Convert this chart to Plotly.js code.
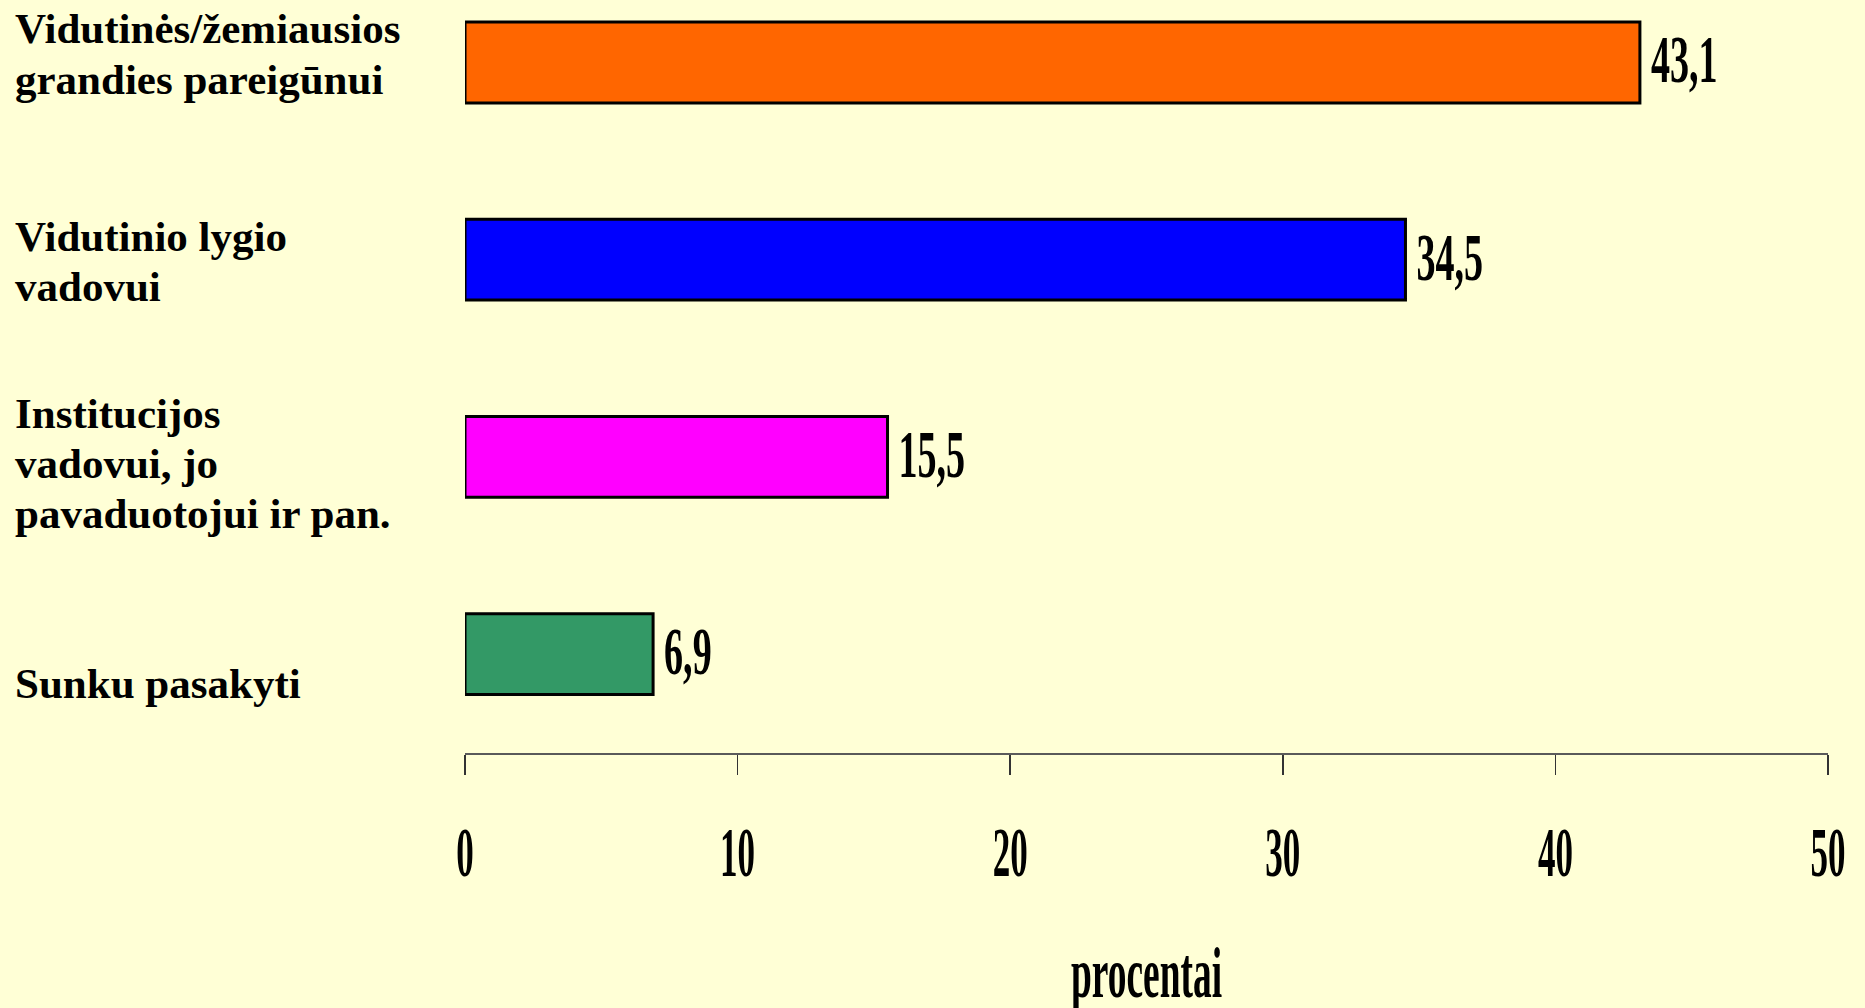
<!DOCTYPE html>
<html>
<head>
<meta charset="utf-8">
<script src="https://cdn.plot.ly/plotly-3.0.1.min.js"></script>
<style>
html, body { margin: 0; padding: 0; background: #FFFFD6; }
#chart { width: 1865px; height: 1008px; }
</style>
</head>
<body>
<div id="chart"></div>
<script>
// ---- data ----
const categories = [
  "Vidutinės/žemiausios<br>grandies pareigūnui",
  "Vidutinio lygio<br>vadovui",
  "Institucijos<br>vadovui, jo<br>pavaduotojui ir pan.",
  "Sunku pasakyti"
];
const values = [43.1, 34.5, 15.5, 6.9];
const valueLabels = ["43,1", "34,5", "15,5", "6,9"];
const xTickValues = [0, 10, 20, 30, 40, 50];
const xTickLabels = ["0", "10", "20", "30", "40", "50"];
const xTitle = "procentai";

// ---- styling ----
const barColors = ["#FF6600", "#0000FF", "#FF00FF", "#339966"];
const BG = "#FFFFD6";
const FONT = "Liberation Serif, Times New Roman, serif";
const W = 1865, H = 1008;
const M = { l: 465, r: 37, t: 0, b: 255 };
const plotW = W - M.l - M.r;
// first-line offset (px, down) of each category label from bar centre, and line gap
const labelFirstOffset = [-34, -23, -43, 29];
const labelLineGap = [51, 50, 50, 50];

const annotations = [];
categories.forEach((cat, i) => {
  const lines = cat.split("<br>");
  lines.forEach((ln, j) => {
    annotations.push({
      xref: "paper", yref: "y",
      x: (13 - M.l) / plotW, y: cat,
      xanchor: "left", yanchor: "middle",
      yshift: -(labelFirstOffset[i] + j * labelLineGap[i]),
      text: ln, showarrow: false, align: "left",
      font: { family: FONT, size: 43, weight: "bold", color: "#000" }
    });
  });
});

const bars = {
  type: "bar", orientation: "h",
  x: values, y: categories,
  marker: { color: barColors, line: { color: "#000", width: 3 } },
  hoverinfo: "none", cliponaxis: false
};
const labels = {
  type: "scatter", mode: "markers+text",
  x: values, y: categories,
  text: valueLabels, textposition: "middle right",
  marker: { size: 16, opacity: 0 },
  textfont: { family: FONT, size: 68, weight: "bold", color: "#000" },
  hoverinfo: "none", cliponaxis: false
};

const layout = {
  width: W, height: H,
  margin: M,
  paper_bgcolor: BG, plot_bgcolor: BG,
  showlegend: false,
  bargap: 0.59,
  xaxis: {
    range: [0, 50],
    tickmode: "array", tickvals: xTickValues, ticktext: xTickLabels,
    ticks: "outside", ticklen: 20, tickwidth: 1.5, tickcolor: "#333",
    showline: true, linecolor: "#5a5a5a", linewidth: 2,
    showgrid: false, zeroline: false,
    tickfont: { family: FONT, size: 70, weight: "bold", color: "#000" },
    ticklabelstandoff: 17,
    title: { text: xTitle, standoff: 68,
             font: { family: FONT, size: 72, weight: "bold", color: "#000" } }
  },
  yaxis: {
    type: "category",
    categoryorder: "array", categoryarray: categories,
    range: [3.5016, -0.3169],
    showticklabels: false, ticks: "", showline: false,
    showgrid: false, zeroline: false
  },
  annotations: annotations
};

function squeeze(gd, sel, s, dy) {
  gd.querySelectorAll(sel).forEach(t => {
    const w = t.getComputedTextLength();
    t.setAttribute("lengthAdjust", "spacingAndGlyphs");
    t.setAttribute("textLength", (w * s).toFixed(2));
    if (dy) {
      const y = parseFloat(t.getAttribute("y") || "0");
      t.setAttribute("y", (y + dy).toFixed(2));
    }
  });
}

const gd = document.getElementById("chart");
Plotly.newPlot(gd, [bars, labels], layout, { displayModeBar: false, staticPlot: true })
  .then(() => {
    squeeze(gd, ".xtick text", 0.5, 0);
    squeeze(gd, ".textpoint text", 0.56, 3);
    squeeze(gd, ".xtitle", 0.52, 5);
  });
</script>
</body>
</html>
